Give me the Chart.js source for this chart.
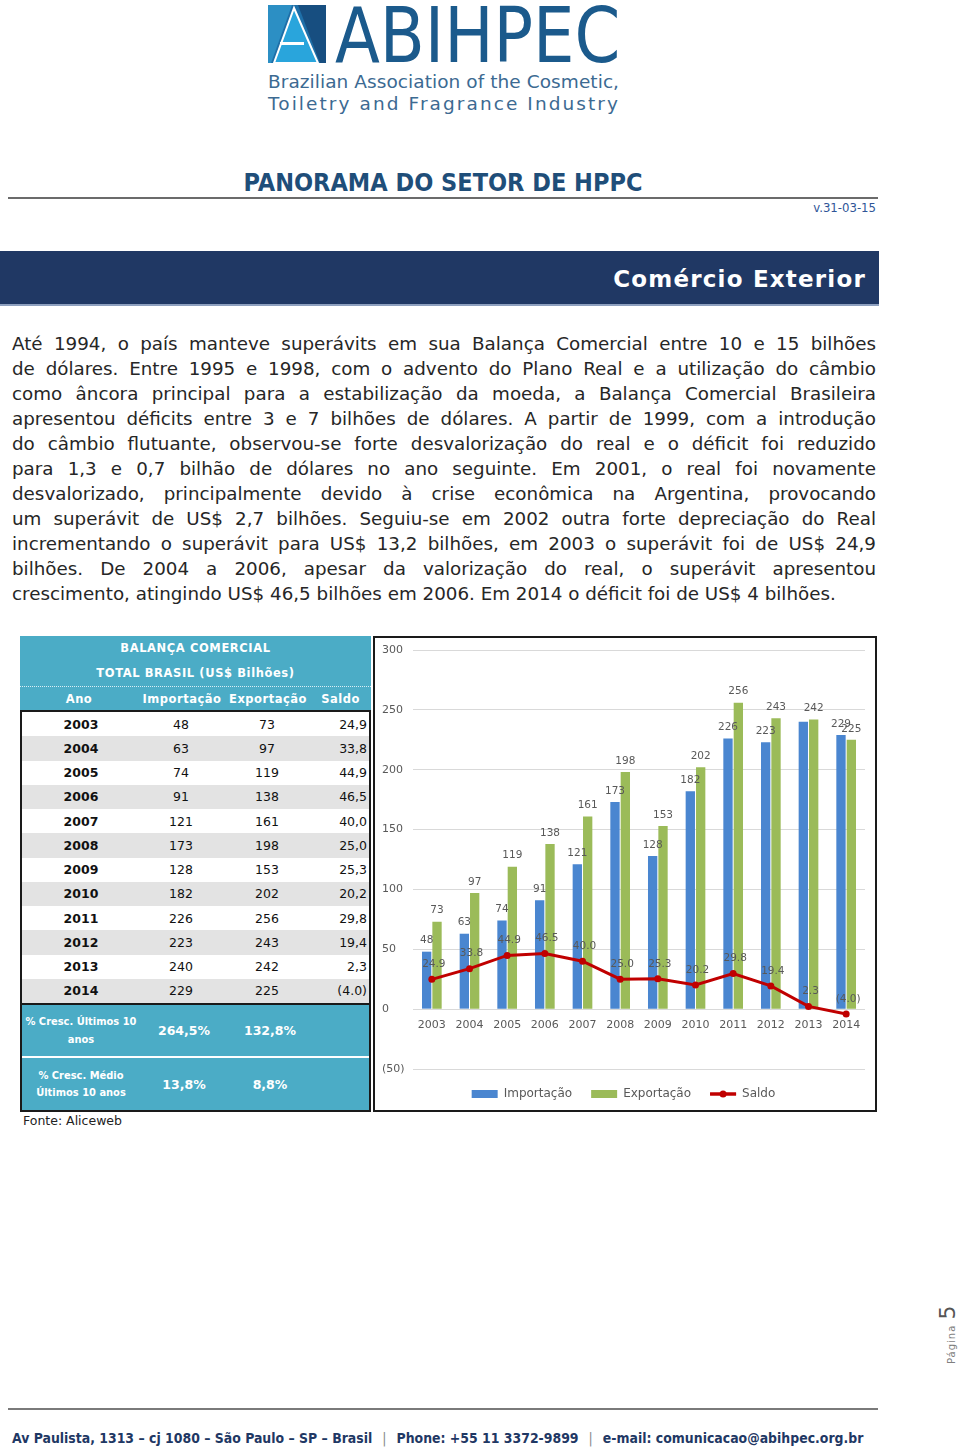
<!DOCTYPE html>
<html lang="pt-BR">
<head>
<meta charset="utf-8">
<title>Panorama do Setor de HPPC - Comércio Exterior</title>
<script src="https://cdn.jsdelivr.net/npm/chart.js@4.4.1/dist/chart.umd.min.js"></script>
<style>
  body { margin: 0; width: 960px; height: 1450px; position: relative; background: #fff; overflow: hidden;
         font-family: "DejaVu Sans", sans-serif; color: #262626; }
  .abs { position: absolute; }
  #marca { left: 335px; top: 6px; height: 60px; font: 77px "DejaVu Sans Condensed", "DejaVu Sans", sans-serif; line-height: 60px;
           color: #1B5A8C; white-space: nowrap; transform: scaleX(0.947); transform-origin: 0 0; }
  #titulo { left: 0; width: 886px; top: 168px; text-align: center; font: bold 25px "DejaVu Sans Condensed", "DejaVu Sans", sans-serif; color: #1F4E79; }
  #linhaTitulo { left: 8px; top: 197px; width: 870px; height: 2px; background: #6b6b6b; }
  #versao { right: 84px; top: 200px; font: 13px "DejaVu Sans Condensed", sans-serif; color: #2F5597; }
  #faixa { left: 0; top: 251px; width: 879px; height: 53px; background: #203864; border-bottom: 2px solid #8ea0bf; }
  #faixa span { position: absolute; right: 13px; top: 0; font: bold 23px "DejaVu Sans", sans-serif; line-height: 56px; letter-spacing: 1.2px; color: #fff; }
  #texto { left: 12px; top: 331px; width: 864px; font-size: 18.3px; }
  #texto div { height: 25px; line-height: 25px; text-align: justify; text-align-last: justify; }
  #texto div.ult { text-align-last: left; }
  #tabela { left: 20px; top: 636px; width: 351px; height: 476px; }
  .tcab { position: absolute; left: 0; width: 351px; background: #4BACC6; color: #fff; font-weight: bold; }
  .cel { position: absolute; top: 0; height: 100%; display: flex; align-items: center; justify-content: center; }
  #dados { position: absolute; left: 0; top: 74px; width: 351px; height: 402px; border: 2px solid #1a1a1a; box-sizing: border-box; }
  .lin { position: absolute; left: 0; width: 347px; font-size: 12.5px; color: #111; }
  #fonte { left: 23px; top: 1113px; font-size: 12.5px; color: #222; }
  #caixaGrafico { left: 373px; top: 636px; width: 504px; height: 476px; border: 2px solid #1a1a1a; box-sizing: border-box; }
  #areaGrafico { position: absolute; left: 0; top: 0; width: 500px; height: 471px; }
  #linhaRodape { left: 8px; top: 1408px; width: 870px; height: 2px; background: #7a7a7a; }
  #rodape { left: 12px; top: 1430px; width: 870px; font: bold 13.9px "DejaVu Sans Condensed", sans-serif; color: #1F3864; white-space: nowrap; }
  #rodape .sep { color: #888; font-weight: normal; padding: 0 10px; }
  #pagina { left: 939px; top: 1364px; width: 80px; transform: rotate(-90deg); transform-origin: 0 0; white-space: nowrap; color: #7f7f7f; line-height: 18px; }
</style>
</head>
<body>

<svg class="abs" style="left:266px;top:3px" width="362" height="112" viewBox="0 0 362 112">
  <rect x="2" y="2" width="58" height="58" fill="#1E6FA8"/>
  <polygon points="32,2 60,2 60,60 54,60" fill="#174E80"/>
  <polygon points="2,2 26,2 5,60 2,60" fill="#2C8FC4"/>
  <polygon points="28,5 52,60 8,60" fill="#29A5DC" stroke="#fff" stroke-width="2"/>
  <rect x="14" y="39" width="24" height="3" fill="#fff"/>
  <text x="2" y="85" font-family="DejaVu Sans" font-size="18.5" fill="#3C6A92" textLength="351" lengthAdjust="spacing">Brazilian Association of the Cosmetic,</text>
  <text x="2" y="107" font-family="DejaVu Sans" font-size="18.5" fill="#3C6A92" textLength="350" lengthAdjust="spacing">Toiletry and Fragrance Industry</text>
</svg>
<div id="marca" class="abs">ABIHPEC</div>

<div id="titulo" class="abs">PANORAMA DO SETOR DE HPPC</div>
<div id="linhaTitulo" class="abs"></div>
<div id="versao" class="abs">v.31-03-15</div>
<div id="faixa" class="abs"><span>Comércio Exterior</span></div>

<div id="texto" class="abs">
  <div>Até 1994, o país manteve superávits em sua Balança Comercial entre 10 e 15 bilhões</div>
  <div>de dólares. Entre 1995 e 1998, com o advento do Plano Real e a utilização do câmbio</div>
  <div>como âncora principal para a estabilização da moeda, a Balança Comercial Brasileira</div>
  <div>apresentou déficits entre 3 e 7 bilhões de dólares. A partir de 1999, com a introdução</div>
  <div>do câmbio flutuante, observou-se forte desvalorização do real e o déficit foi reduzido</div>
  <div>para 1,3 e 0,7 bilhão de dólares no ano seguinte. Em 2001, o real foi novamente</div>
  <div>desvalorizado, principalmente devido à crise econômica na Argentina, provocando</div>
  <div>um superávit de US$ 2,7 bilhões. Seguiu-se em 2002 outra forte depreciação do Real</div>
  <div>incrementando o superávit para US$ 13,2 bilhões, em 2003 o superávit foi de US$ 24,9</div>
  <div>bilhões. De 2004 a 2006, apesar da valorização do real, o superávit apresentou</div>
  <div class="ult">crescimento, atingindo US$ 46,5 bilhões em 2006. Em 2014 o déficit foi de US$ 4 bilhões.</div>
</div>

<div id="tabela" class="abs"></div>
<div id="fonte" class="abs">Fonte: Aliceweb</div>

<div id="caixaGrafico" class="abs">
  <div id="areaGrafico"><canvas id="grafico"></canvas></div>
</div>

<div id="pagina" class="abs"><span style="font-size:10px;letter-spacing:1px">Página</span> <span style="font-size:22px;color:#555">5</span></div>

<div id="linhaRodape" class="abs"></div>
<div id="rodape" class="abs">Av Paulista, 1313 – cj 1080 – São Paulo – SP – Brasil<span class="sep">|</span>Phone: +55 11 3372-9899<span class="sep">|</span>e-mail: comunicacao@abihpec.org.br</div>

<script>
const anos = ['2003', '2004', '2005', '2006', '2007', '2008', '2009', '2010', '2011', '2012', '2013', '2014'];
const importacao = [48, 63, 74, 91, 121, 173, 128, 182, 226, 223, 240, 229];
const exportacao = [73, 97, 119, 138, 161, 198, 153, 202, 256, 243, 242, 225];
const saldo = [24.9, 33.8, 44.9, 46.5, 40.0, 25.0, 25.3, 20.2, 29.8, 19.4, 2.3, -4.0];
const crescUltimos10 = ['264,5%', '132,8%'];
const crescMedio10 = ['13,8%', '8,8%'];
// rotulo que o Excel escondeu (2013, importacao)
const importSemRotulo = [10];

const corImport = '#4A86D0';
const corExport = '#9BBB59';
const corSaldo = '#C00000';
const cinza = '#595959';

function fmtTabela(v) {
    return v < 0 ? '(' + Math.abs(v).toFixed(1) + ')' : v.toFixed(1).replace('.', ',');
}
function fmtGrafico(v) {
    return v < 0 ? '(' + Math.abs(v).toFixed(1) + ')' : v.toFixed(1);
}

// ---- tabela ----
const tabela = document.getElementById('tabela');
const colunas = [[0, 118], [118, 88], [206, 84], [290, 61]];

function celula(col, html, extra) {
    const [l, w] = colunas[col];
    return `<div class="cel" style="left:${l}px;width:${w}px;${extra || ''}">${html}</div>`;
}

tabela.innerHTML = `
  <div class="tcab" style="top:0;height:25px;line-height:25px;text-align:center;font-size:11.5px;letter-spacing:0.6px">BALANÇA COMERCIAL</div>
  <div class="tcab" style="top:25px;height:25px;line-height:25px;text-align:center;font-size:11.5px;letter-spacing:0.6px;border-bottom:1px dotted #d8eef5">TOTAL BRASIL (US$ Bilhões)</div>
  <div class="tcab" style="top:51px;height:24px;font-size:11.5px;letter-spacing:0.5px">
    ${celula(0, 'Ano')}${celula(1, 'Importação')}${celula(2, 'Exportação')}${celula(3, 'Saldo')}
  </div>
  <div id="dados"></div>`;

const dados = document.getElementById('dados');
let html = '';
anos.forEach((ano, i) => {
    const fundo = i % 2 === 0 ? '#ffffff' : '#E3E3E3';
    html += `<div class="lin" style="top:${i * 24.25}px;height:24.25px;background:${fundo}">
      ${celula(0, '<b style="font-size:12.5px">' + ano + '</b>')}
      ${celula(1, importacao[i], 'padding-right:6px;box-sizing:border-box')}
      ${celula(2, exportacao[i], 'padding-right:6px;box-sizing:border-box')}
      ${celula(3, fmtTabela(saldo[i]), 'justify-content:flex-end;padding-right:6px;box-sizing:border-box')}
    </div>`;
});
const estiloTeal = 'position:absolute;left:0;width:347px;background:#4BACC6;color:#fff;font-weight:bold;';
html += `<div style="${estiloTeal}top:291px;height:53px;border-top:2px solid #1a1a1a;box-sizing:border-box">
    ${celula(0, '<span style="font:bold 11px \'DejaVu Sans Condensed\';text-align:center;line-height:18px">% Cresc. Últimos 10<br>anos</span>')}
    ${celula(1, crescUltimos10[0], 'font-size:12.5px')}
    ${celula(2, crescUltimos10[1], 'font-size:12.5px')}
  </div>
  <div style="${estiloTeal}top:346px;height:52px">
    ${celula(0, '<span style="font:bold 11px \'DejaVu Sans Condensed\';text-align:center;line-height:17px">% Cresc. Médio<br>Últimos 10 anos</span>')}
    ${celula(1, crescMedio10[0], 'font-size:12.5px')}
    ${celula(2, crescMedio10[1], 'font-size:12.5px')}
  </div>`;
dados.innerHTML = html;

// ---- grafico ----
const rotulos = {
    id: 'rotulos',
    afterDatasetsDraw(chart) {
        const ctx = chart.ctx;
        ctx.save();
        ctx.font = '10.5px "DejaVu Sans"';
        ctx.fillStyle = cinza;
        ctx.textAlign = 'center';
        ctx.textBaseline = 'middle';
        chart.data.datasets.forEach((ds, i) => {
            chart.getDatasetMeta(i).data.forEach((el, j) => {
                if (ds.semRotulo && ds.semRotulo.includes(j)) return;
                const v = ds.data[j];
                if (ds.type === 'line') {
                    ctx.fillText(fmtGrafico(v), el.x + 2, el.y - 15);
                } else {
                    ctx.fillText(String(v), el.x, el.y - 11);
                }
            });
        });
        ctx.restore();
    }
};

const legendaSaldo = {
    id: 'legendaSaldo',
    beforeInit(chart) {
        const fitOrig = chart.legend.fit;
        chart.legend.fit = function () {
            fitOrig.call(this);
            this.height = 40;
        };
    },
    afterDraw(chart) {
        const lg = chart.legend;
        const idx = lg.legendItems.findIndex(it => it.text === 'Saldo');
        const hb = lg.legendHitBoxes[idx];
        if (!hb) return;
        const ctx = chart.ctx;
        const cy = hb.top + hb.height / 2;
        ctx.save();
        ctx.strokeStyle = corSaldo;
        ctx.lineWidth = 3;
        ctx.beginPath();
        ctx.moveTo(hb.left, cy);
        ctx.lineTo(hb.left + 26, cy);
        ctx.stroke();
        ctx.fillStyle = corSaldo;
        ctx.beginPath();
        ctx.arc(hb.left + 13, cy, 3.5, 0, Math.PI * 2);
        ctx.fill();
        ctx.restore();
    }
};

new Chart(document.getElementById('grafico'), {
    type: 'bar',
    data: {
        labels: anos,
        datasets: [
            {
                type: 'bar',
                label: 'Importação',
                data: importacao,
                backgroundColor: corImport,
                categoryPercentage: 0.55,
                barPercentage: 0.9,
                semRotulo: importSemRotulo
            },
            {
                type: 'bar',
                label: 'Exportação',
                data: exportacao,
                backgroundColor: corExport,
                categoryPercentage: 0.55,
                barPercentage: 0.9
            },
            {
                type: 'line',
                label: 'Saldo',
                data: saldo,
                borderColor: corSaldo,
                backgroundColor: corSaldo,
                borderWidth: 3,
                pointRadius: 3.5,
                pointBackgroundColor: corSaldo,
                pointBorderWidth: 0,
                tension: 0,
                order: -1
            }
        ]
    },
    options: {
        responsive: true,
        maintainAspectRatio: false,
        animation: false,
        layout: { padding: { top: 12, left: 7, right: 10, bottom: 0 } },
        scales: {
            x: {
                position: { y: 0 },
                grid: { display: false },
                border: { display: false },
                ticks: { color: cinza, font: { family: 'DejaVu Sans', size: 11 }, padding: 1 }
            },
            y: {
                min: -50,
                max: 300,
                afterFit(scale) { scale.width = 31; },
                grid: { color: '#D9D9D9', drawTicks: false },
                border: { display: false },
                ticks: {
                    stepSize: 50,
                    crossAlign: 'far',
                    color: cinza,
                    font: { family: 'DejaVu Sans', size: 11 },
                    callback: v => v < 0 ? '(' + Math.abs(v) + ')' : v
                }
            }
        },
        plugins: {
            tooltip: { enabled: false },
            legend: {
                position: 'bottom',
                labels: {
                    color: cinza,
                    font: { family: 'DejaVu Sans', size: 12 },
                    boxWidth: 26,
                    boxHeight: 8,
                    padding: 19,
                    usePointStyle: true,
                    pointStyleWidth: 26,
                    generateLabels(chart) {
                        const itens = Chart.defaults.plugins.legend.labels.generateLabels(chart);
                        itens.forEach(it => {
                            const ds = chart.data.datasets[it.datasetIndex];
                            it.pointStyle = ds.type === 'line' ? 'line' : 'rect';
                            it.lineWidth = ds.type === 'line' ? 3 : 0;
                            it.strokeStyle = ds.borderColor || ds.backgroundColor;
                        });
                        return itens.sort((a, b) => a.datasetIndex - b.datasetIndex);
                    }
                }
            }
        }
    },
    plugins: [rotulos, legendaSaldo]
});
</script>
</body>
</html>
